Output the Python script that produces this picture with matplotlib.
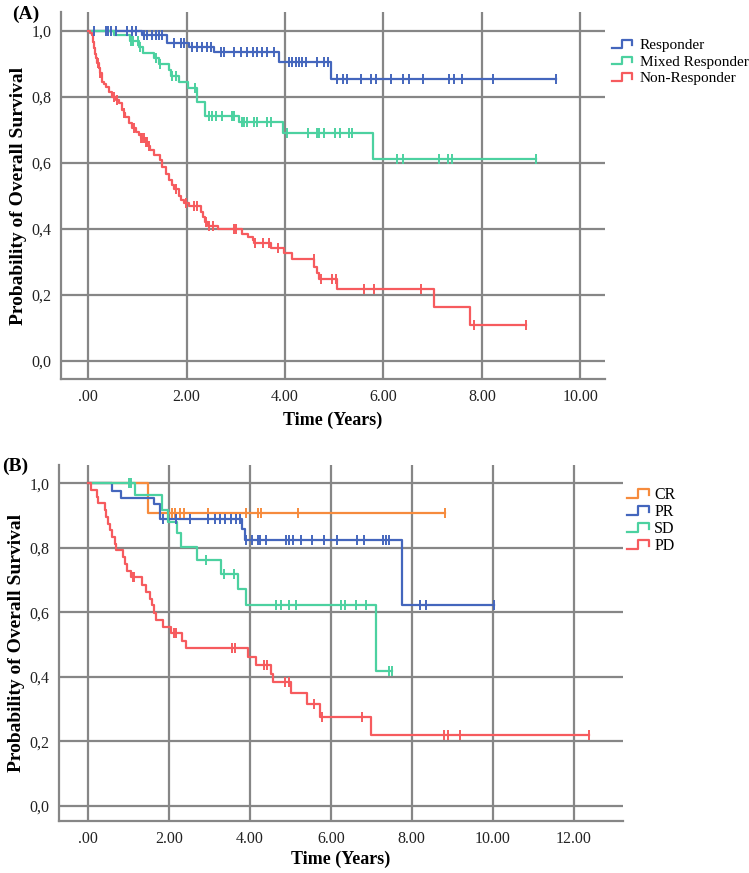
import numpy as np
import matplotlib
matplotlib.use('Agg')
import matplotlib.pyplot as plt
from matplotlib.legend_handler import HandlerBase
from matplotlib.lines import Line2D

plt.rcParams['font.family'] = ['Liberation Serif', 'DejaVu Serif']

# ---------------- Panel A data ----------------
a_labels = ['Responder', 'Mixed Responder', 'Non-Responder']

resp_t = [1.10, 1.61, 2.05, 2.56, 3.88, 4.94]
resp_s = [0.987, 0.964, 0.951, 0.936, 0.906, 0.853]
resp_c = [0.13, 0.36, 0.40, 0.46, 0.56, 0.80, 0.90, 0.97, 1.13, 1.20, 1.30, 1.37,
          1.44, 1.51, 1.74, 1.88, 1.95, 2.12, 2.22, 2.32, 2.41, 2.50, 2.69, 2.76,
          2.96, 3.10, 3.22, 3.34, 3.44, 3.54, 3.64, 3.78, 4.08, 4.15, 4.22, 4.28,
          4.34, 4.42, 4.66, 4.79, 4.88, 5.06, 5.18, 5.25, 5.55, 5.74, 5.84, 6.16,
          6.39, 6.51, 6.81, 7.33, 7.44, 7.60, 8.22, 9.50]

mixed_t = [0.52, 0.85, 1.03, 1.12, 1.33, 1.45, 1.64, 1.69, 1.85, 2.02, 2.22, 2.37,
           3.07, 3.95, 5.78]
mixed_s = [0.987, 0.970, 0.951, 0.934, 0.918, 0.900, 0.881, 0.863, 0.845, 0.825,
           0.785, 0.742, 0.722, 0.689, 0.610]
mixed_c = [0.88, 0.92, 1.01, 1.05, 1.37, 1.47, 1.71, 1.78, 2.18, 2.46, 2.52, 2.59,
           2.73, 2.93, 2.96, 3.13, 3.17, 3.23, 3.37, 3.44, 3.64, 3.71, 4.05, 4.46,
           4.66, 4.69, 4.79, 5.01, 5.12, 5.30, 5.37, 6.27, 6.39, 7.13, 7.31, 7.40, 9.10]

nonr_t = [0.03, 0.085, 0.10, 0.12, 0.15, 0.17, 0.19, 0.22, 0.25, 0.29, 0.33, 0.36,
          0.42, 0.49, 0.56, 0.63, 0.69, 0.72, 0.76, 0.83, 0.90, 0.97, 1.03, 1.07,
          1.16, 1.22, 1.26, 1.34, 1.47, 1.51, 1.58, 1.64, 1.70, 1.75, 1.84, 1.88,
          1.95, 2.05, 2.29, 2.33, 2.37, 2.44, 2.63, 3.13, 3.25, 3.34, 3.38, 3.71,
          3.98, 4.15, 4.59, 4.65, 4.69, 5.06, 7.02, 7.76]
nonr_s = [0.993, 0.987, 0.967, 0.947, 0.931, 0.916, 0.901, 0.886, 0.871, 0.845,
          0.838, 0.830, 0.815, 0.800, 0.790, 0.780, 0.760, 0.750, 0.740, 0.720,
          0.704, 0.694, 0.684, 0.674, 0.662, 0.650, 0.638, 0.623, 0.608, 0.588,
          0.567, 0.547, 0.532, 0.520, 0.500, 0.487, 0.478, 0.468, 0.451, 0.436,
          0.421, 0.408, 0.398, 0.383, 0.375, 0.367, 0.357, 0.340, 0.325, 0.307,
          0.284, 0.265, 0.246, 0.216, 0.161, 0.107]
nonr_c = [0.20, 0.25, 0.52, 0.58, 0.73, 0.93, 1.07, 1.10, 1.14, 1.17, 1.20, 1.24,
          1.79, 1.98, 2.15, 2.21, 2.40, 2.46, 2.54, 2.96, 3.00, 3.40, 3.56, 3.68,
          3.85, 4.58, 4.73, 4.96, 5.03, 5.61, 5.80, 6.76, 7.84, 8.89]

# ---------------- Panel B data ----------------
b_labels = ['CR', 'PR', 'SD', 'PD']

cr_t = [1.48]
cr_s = [0.909]
cr_c = [2.08, 2.14, 2.26, 2.37, 2.96, 3.91, 4.20, 4.28, 5.19, 8.81]

pr_t = [0.58, 0.82, 1.62, 1.78, 3.80, 3.88, 7.76]
pr_s = [0.977, 0.955, 0.935, 0.891, 0.858, 0.824, 0.622]
pr_c = [1.84, 2.18, 2.51, 2.96, 3.13, 3.25, 3.38, 3.54, 3.65, 3.75, 3.91, 4.06,
        4.20, 4.24, 4.40, 4.90, 4.96, 5.06, 5.27, 5.54, 5.83, 6.16, 6.65, 6.81,
        7.28, 7.37, 7.43, 8.21, 8.34, 10.04]

sd_t = [1.15, 1.82, 1.98, 2.20, 2.30, 2.69, 3.29, 3.70, 3.89, 7.11]
sd_s = [0.964, 0.919, 0.881, 0.845, 0.803, 0.762, 0.719, 0.674, 0.622, 0.418]
sd_c = [1.01, 1.07, 2.92, 3.37, 3.60, 4.64, 4.76, 4.96, 5.13, 6.24, 6.36, 6.61,
        6.88, 7.43, 7.50]

pd_t = [0.06, 0.21, 0.25, 0.41, 0.45, 0.50, 0.55, 0.60, 0.66, 0.70, 0.87, 0.91,
        0.95, 1.06, 1.32, 1.44, 1.52, 1.57, 1.63, 1.67, 1.86, 2.04, 2.31, 2.43,
        3.96, 4.14, 4.53, 4.56, 5.01, 5.42, 5.74, 7.00]
pd_s = [0.979, 0.958, 0.938, 0.917, 0.896, 0.875, 0.854, 0.833, 0.813, 0.792,
        0.771, 0.750, 0.729, 0.710, 0.684, 0.664, 0.643, 0.622, 0.597, 0.576,
        0.555, 0.535, 0.512, 0.488, 0.462, 0.436, 0.410, 0.383, 0.349, 0.315,
        0.276, 0.219]
pd_c = [1.10, 1.14, 2.13, 2.17, 3.55, 3.62, 4.34, 4.41, 4.87, 4.96, 5.58, 5.79,
        6.76, 8.80, 8.89, 9.20, 12.39]

c_blue = '#4466BD'
c_green = '#4CD1A0'
c_red = '#F65B5E'
c_orange = '#F68B3D'
grid_c = '#868686'

y_ticks = [0.0, 0.2, 0.4, 0.6, 0.8, 1.0]
y_ticklabels = ['0,0', '0,2', '0,4', '0,6', '0,8', '1,0']
a_xticks = [0, 2, 4, 6, 8, 10]
a_xticklabels = ['.00', '2.00', '4.00', '6.00', '8.00', '10.00']
b_xticks = [0, 2, 4, 6, 8, 10, 12]
b_xticklabels = ['.00', '2.00', '4.00', '6.00', '8.00', '10.00', '12.00']


class StepHandler(HandlerBase):
    def create_artists(self, legend, orig_handle, xdescent, ydescent, width,
                       height, fontsize, trans):
        xs = np.array([0.0, 0.5, 0.5, 1.0, 1.0]) * width - xdescent
        ys = np.array([0.1, 0.1, 0.9, 0.9, 0.35]) * height - ydescent
        ln = Line2D(xs, ys, color=orig_handle.get_color(),
                    lw=orig_handle.get_linewidth(), transform=trans)
        return [ln]


def km(ax, ev_t, ev_s, cens, color):
    ev_t = np.asarray(ev_t, float)
    ev_s = np.asarray(ev_s, float)
    cens = np.asarray(cens, float)
    end = max(ev_t.max(), cens.max())
    xs = np.concatenate([[0.0], ev_t, [end]])
    ys = np.concatenate([[1.0], ev_s, [ev_s[-1]]])
    line, = ax.step(xs, ys, where='post', color=color, lw=1.6, zorder=3)
    idx = np.searchsorted(ev_t, cens, side='right')
    s_all = np.concatenate([[1.0], ev_s])
    ax.plot(cens, s_all[idx], ls='none', marker='|', ms=7, mew=1.4,
            color=color, zorder=4)
    return line


def style(ax, xlim, ylim, xticks, xticklabels, xlabelpad):
    ax.set_xlim(*xlim)
    ax.set_ylim(*ylim)
    ax.set_xticks(xticks)
    ax.set_xticklabels(xticklabels)
    ax.set_yticks(y_ticks)
    ax.set_yticklabels(y_ticklabels)
    ax.tick_params(length=0, labelsize=11.5, pad=7, colors='#222222')
    ax.grid(True, color=grid_c, lw=1.6)
    ax.set_axisbelow(True)
    for s in ['top', 'right']:
        ax.spines[s].set_visible(False)
    for s in ['left', 'bottom']:
        ax.spines[s].set_color(grid_c)
        ax.spines[s].set_linewidth(1.6)
    ax.set_ylabel('Probability of Overall Survival', fontsize=14,
                  fontweight='bold', labelpad=3)
    ax.set_xlabel('Time (Years)', fontsize=13, fontweight='bold',
                  labelpad=xlabelpad)


W, H = 749, 873
fig = plt.figure(figsize=(W / 100, H / 100), dpi=100)

axA = fig.add_axes([61 / W, 1 - 379 / H, (605 - 61) / W, (379 - 12) / H])
la1 = km(axA, resp_t, resp_s, resp_c, c_blue)
la2 = km(axA, mixed_t, mixed_s, mixed_c, c_green)
la3 = km(axA, nonr_t, nonr_s, nonr_c, c_red)
style(axA, (-0.55, 10.5), (-0.056, 1.057), a_xticks, a_xticklabels, 5)
fig.legend([la1, la2, la3], a_labels, loc='upper left',
           bbox_to_anchor=(612 / W, 1 - 39 / H), frameon=False,
           handler_map={Line2D: StepHandler()}, fontsize=11,
           handlelength=1.3, handleheight=0.6, handletextpad=0.5,
           labelspacing=0.22, borderpad=0, borderaxespad=0)

axB = fig.add_axes([59 / W, 1 - 821 / H, (623 - 59) / W, (821 - 465) / H])
lb1 = km(axB, cr_t, cr_s, cr_c, c_orange)
lb2 = km(axB, pr_t, pr_s, pr_c, c_blue)
lb3 = km(axB, sd_t, sd_s, sd_c, c_green)
lb4 = km(axB, pd_t, pd_s, pd_c, c_red)
style(axB, (-0.72, 13.22), (-0.047, 1.057), b_xticks, b_xticklabels, 3)
fig.legend([lb1, lb2, lb3, lb4], b_labels, loc='upper left',
           bbox_to_anchor=(627 / W, 1 - 487 / H), frameon=False,
           handler_map={Line2D: StepHandler()}, fontsize=11.5,
           handlelength=1.4, handleheight=0.7, handletextpad=0.3,
           labelspacing=0.06, borderpad=0, borderaxespad=0)

fig.text(12 / W, 1 - 14 / H, '(A)', fontsize=14, fontweight='bold',
         ha='left', va='center')
fig.text(2 / W, 1 - 466 / H, '(B)', fontsize=14, fontweight='bold',
         ha='left', va='center')

fig.savefig('out.png', dpi=100)
